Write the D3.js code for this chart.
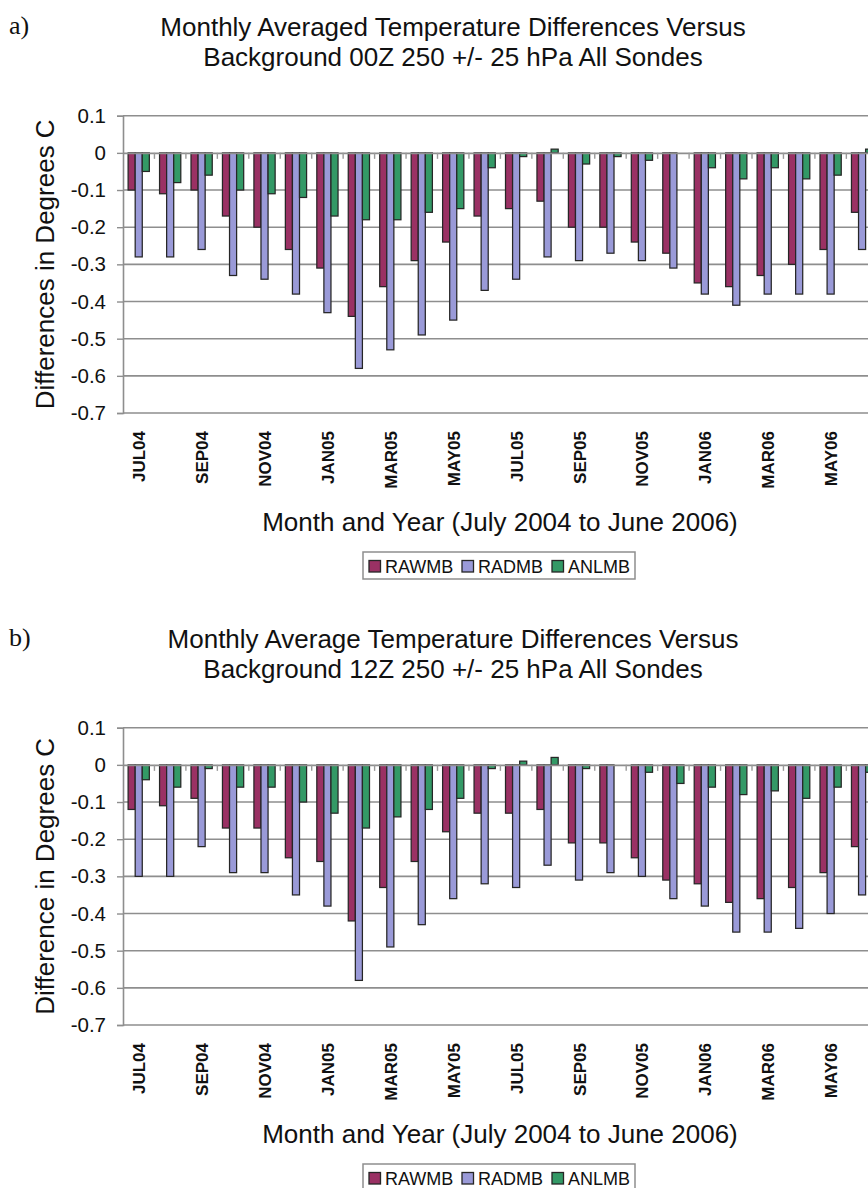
<!DOCTYPE html>
<html>
<head>
<meta charset="utf-8">
<script src="https://cdn.jsdelivr.net/npm/d3@7"></script>
<style>
  html, body { margin: 0; padding: 0; background: #fff; }
  svg { display: block; }
</style>
</head>
<body>
<svg id="chart" width="868" height="1188"></svg>
<script>
// Month categories, July 2004 to June 2006
const months = ["JUL04","AUG04","SEP04","OCT04","NOV04","DEC04","JAN05","FEB05","MAR05","APR05","MAY05","JUN05",
                "JUL05","AUG05","SEP05","OCT05","NOV05","DEC05","JAN06","FEB06","MAR06","APR06","MAY06","JUN06"];
const seriesNames = ["RAWMB", "RADMB", "ANLMB"];
const yTicks = [0.1, 0, -0.1, -0.2, -0.3, -0.4, -0.5, -0.6, -0.7];

// 00Z soundings
const raw00 = [-0.10,-0.11,-0.10,-0.17,-0.20,-0.26,-0.31,-0.44,-0.36,-0.29,-0.24,-0.17,
               -0.15,-0.13,-0.20,-0.20,-0.24,-0.27,-0.35,-0.36,-0.33,-0.30,-0.26,-0.16];
const rad00 = [-0.28,-0.28,-0.26,-0.33,-0.34,-0.38,-0.43,-0.58,-0.53,-0.49,-0.45,-0.37,
               -0.34,-0.28,-0.29,-0.27,-0.29,-0.31,-0.38,-0.41,-0.38,-0.38,-0.38,-0.26];
const anl00 = [-0.05,-0.08,-0.06,-0.10,-0.11,-0.12,-0.17,-0.18,-0.18,-0.16,-0.15,-0.04,
               -0.01, 0.01,-0.03,-0.01,-0.02, 0.00,-0.04,-0.07,-0.04,-0.07,-0.06, 0.01];

// 12Z soundings
const raw12 = [-0.12,-0.11,-0.09,-0.17,-0.17,-0.25,-0.26,-0.42,-0.33,-0.26,-0.18,-0.13,
               -0.13,-0.12,-0.21,-0.21,-0.25,-0.31,-0.32,-0.37,-0.36,-0.33,-0.29,-0.22];
const rad12 = [-0.30,-0.30,-0.22,-0.29,-0.29,-0.35,-0.38,-0.58,-0.49,-0.43,-0.36,-0.32,
               -0.33,-0.27,-0.31,-0.29,-0.30,-0.36,-0.38,-0.45,-0.45,-0.44,-0.40,-0.35];
const anl12 = [-0.04,-0.06,-0.01,-0.06,-0.06,-0.10,-0.13,-0.17,-0.14,-0.12,-0.09,-0.01,
                0.01, 0.02,-0.01, 0.00,-0.02,-0.05,-0.06,-0.08,-0.07,-0.09,-0.06,-0.02];

const colors = ["#9a3164", "#9a9ad8", "#339966"];

const svg = d3.select("#chart");
const FONT = "'Liberation Sans', Arial, sans-serif";

function panel(cfg) {
  const g = svg.append("g");
  const left = 123;
  const step = 31.45;
  const x = d3.scaleBand().domain(months).range([left, left + step * months.length]).padding(0);
  const gap = x.bandwidth() * 0.325;
  const xs = d3.scaleBand().domain(seriesNames).range([gap / 2, x.bandwidth() - gap / 2]).padding(0);
  const y = d3.scaleLinear().domain([0.1, -0.7]).range([cfg.top, cfg.bottom]);
  const right = 868;

  // horizontal gridlines
  g.append("g").selectAll("line").data(yTicks.filter(d => d !== 0)).join("line")
    .attr("x1", left).attr("x2", right)
    .attr("y1", d => y(d)).attr("y2", d => y(d))
    .attr("stroke", "#8e8e8e").attr("stroke-width", 1.6);

  // value axis
  const yAxis = d3.axisLeft(y).tickValues(yTicks).tickSize(6).tickPadding(11)
    .tickFormat(d => d === 0 ? "0" : d3.format(".1f")(d).replace("−", "-"));
  const ya = g.append("g").attr("transform", `translate(${left},0)`).call(yAxis);
  ya.select(".domain").attr("stroke", "#8e8e8e").attr("stroke-width", 1.6);
  ya.selectAll(".tick line").attr("stroke", "#8e8e8e").attr("stroke-width", 1.4);
  ya.selectAll(".tick text").attr("font-family", FONT).attr("font-size", 20.5).attr("fill", "#111");

  // bars
  const series = [cfg.raw, cfg.rad, cfg.anl];
  series.forEach((vals, si) => {
    g.append("g").selectAll("rect").data(vals).join("rect")
      .attr("x", (d, i) => x(months[i]) + xs(seriesNames[si]))
      .attr("width", xs.bandwidth())
      .attr("y", d => Math.min(y(d), y(0)))
      .attr("height", d => Math.abs(y(d) - y(0)))
      .attr("fill", colors[si])
      .attr("stroke", "#262626").attr("stroke-width", 1.25);
  });

  // category axis crossing at zero
  const xAxis = d3.axisBottom(x).tickValues([]).tickSizeOuter(0);
  const xa = g.append("g").attr("transform", `translate(0,${y(0)})`).call(xAxis);
  xa.select(".domain").attr("stroke", "#8e8e8e").attr("stroke-width", 1.6);
  g.append("g").selectAll("line").data(months.slice(1)).join("line")
    .attr("x1", d => x(d)).attr("x2", d => x(d))
    .attr("y1", y(0)).attr("y2", y(0) + 6)
    .attr("stroke", "#9a9a9a").attr("stroke-width", 1.4);

  // month labels, every second month
  g.append("g").selectAll("text").data(months.filter((d, i) => i % 2 === 0)).join("text")
    .attr("transform", d => `translate(${x(d) + x.bandwidth() / 2 + 6.5},${cfg.bottom + 18}) rotate(-90)`)
    .attr("text-anchor", "end")
    .attr("font-family", FONT).attr("font-size", 17).attr("font-weight", "bold").attr("fill", "#111")
    .text(d => d);

  // titles
  g.append("text").attr("x", 9).attr("y", cfg.top - 82)
    .attr("font-family", "'Liberation Serif', 'Times New Roman', serif").attr("font-size", 26).attr("fill", "#111")
    .text(cfg.tag);
  cfg.title.forEach((t, i) => {
    g.append("text").attr("x", 453).attr("y", cfg.top - 80 + i * 30)
      .attr("text-anchor", "middle")
      .attr("font-family", FONT).attr("font-size", 26).attr("fill", "#111")
      .text(t);
  });

  // axis titles
  g.append("text")
    .attr("transform", `translate(54,${(cfg.top + cfg.bottom) / 2}) rotate(-90)`)
    .attr("text-anchor", "middle")
    .attr("font-family", FONT).attr("font-size", 26).attr("fill", "#111")
    .text(cfg.yTitle);
  g.append("text").attr("x", 500).attr("y", cfg.bottom + 118)
    .attr("text-anchor", "middle")
    .attr("font-family", FONT).attr("font-size", 26).attr("fill", "#111")
    .text("Month and Year (July 2004 to June 2006)");

  // legend
  const lg = g.append("g").attr("transform", `translate(363,${cfg.bottom + 139})`);
  lg.append("rect").attr("width", 272).attr("height", 27)
    .attr("fill", "#fff").attr("stroke", "#8e8e8e").attr("stroke-width", 1.5);
  const itemX = [6, 99, 189];
  seriesNames.forEach((s, i) => {
    lg.append("rect").attr("x", itemX[i]).attr("y", 8.5).attr("width", 11.5).attr("height", 11.5)
      .attr("fill", colors[i]).attr("stroke", "#262626").attr("stroke-width", 1.3);
    lg.append("text").attr("x", itemX[i] + 16).attr("y", 20.5)
      .attr("font-family", FONT).attr("font-size", 18).attr("fill", "#111")
      .text(s);
  });
}

panel({
  tag: "a)", top: 115.7, bottom: 413,
  title: ["Monthly Averaged Temperature Differences Versus", "Background 00Z 250 +/- 25 hPa All Sondes"],
  yTitle: "Differences in Degrees C",
  raw: raw00, rad: rad00, anl: anl00
});
panel({
  tag: "b)", top: 727.7, bottom: 1025,
  title: ["Monthly Average Temperature Differences Versus", "Background 12Z 250 +/- 25 hPa All Sondes"],
  yTitle: "Difference in Degrees C",
  raw: raw12, rad: rad12, anl: anl12
});
</script>
</body>
</html>
